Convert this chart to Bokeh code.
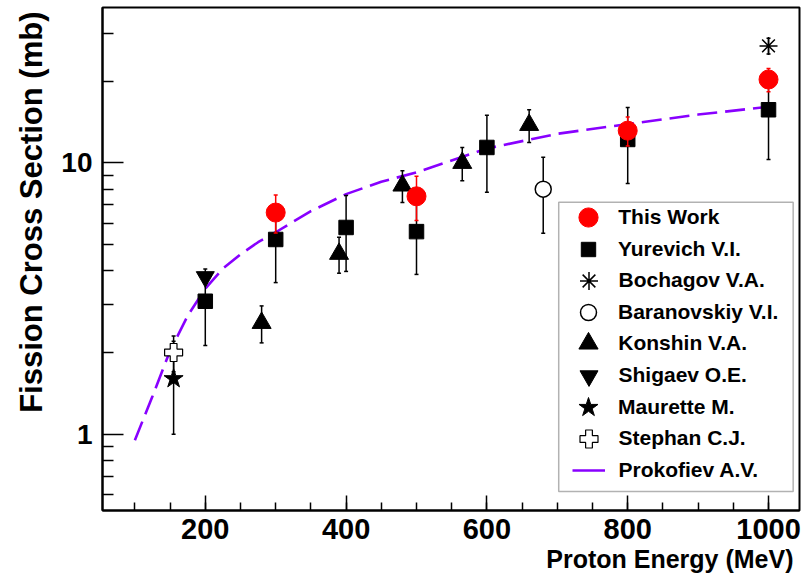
from bokeh.plotting import figure
from bokeh.models import (Range1d, FixedTicker, ColumnDataSource, Legend, LegendItem,
                          BoxAnnotation, PrintfTickFormatter, Title)
from bokeh.embed import file_html
from bokeh.resources import INLINE

FONT = "Liberation Sans"

# ---------------- data ----------------
this_E = [300, 500, 800, 1000]
this_xs = [6.56, 7.53, 13.15, 20.3]
this_err = [1.05, 1.4, 1.6, 2.0]

yurevich_E = [200, 300, 400, 500, 600, 800, 1000]
yurevich_xs = [3.09, 5.22, 5.78, 5.58, 11.4, 12.2, 15.7]
yurevich_err = [0.97, 1.6, 1.8, 1.7, 3.6, 3.8, 5.4]

bochagov_E = [1000]
bochagov_xs = [27.0]
bochagov_err = [1.8]

baranovskiy_E = [680]
baranovskiy_xs = [8.0]
baranovskiy_err = [2.5]

konshin_E = [280, 390, 480, 565, 660]
konshin_xs = [2.57, 4.62, 8.25, 10.0, 13.8]
konshin_err = [0.4, 0.7, 1.1, 1.4, 1.9]

shigaev_E = [200]
shigaev_xs = [3.8]

maurette_E = [155]
maurette_xs = [1.6]
maurette_err = [0.6]

stephan_E = [155]
stephan_xs = [2.0]
stephan_err = [0.3]

prokofiev_E = [100, 125, 150, 175, 200, 225, 250, 275, 300, 350, 400, 450, 500,
               600, 700, 800, 900, 1000]
prokofiev_xs = [0.95, 1.38, 2.03, 2.73, 3.44, 4.08, 4.6, 5.1, 5.55, 6.64, 7.67,
                8.52, 9.23, 11.3, 12.8, 13.9, 15.07, 16.1]

x_major = [200, 400, 600, 800, 1000]
x_minor = list(range(100, 1001, 50))
y_major = [1, 10]
y_minor = [0.6, 0.7, 0.8, 0.9, 2, 3, 4, 5, 6, 7, 8, 9, 20, 30]

x_title = "Proton Energy (MeV)"
y_title = "Fission Cross Section (mb)"
legend_labels = ["This Work", "Yurevich V.I.", "Bochagov V.A.", "Baranovskiy V.I.",
                 "Konshin V.A.", "Shigaev O.E.", "Maurette M.", "Stephan C.J.",
                 "Prokofiev A.V."]

X0, X1 = 54, 1044
Y0, Y1 = 0.523, 37.4

# ---------------- figure ----------------
p = figure(width=805, height=578, x_range=Range1d(X0, X1), y_range=Range1d(Y0, Y1),
           y_axis_type="log", output_backend="svg", toolbar_location=None,
           min_border_left=102, min_border_right=6, min_border_top=7, min_border_bottom=68)
p.background_fill_color = "white"
p.border_fill_color = "white"
p.outline_line_color = "black"
p.outline_line_width = 2
p.grid.visible = False

for ax in (p.xaxis[0], p.yaxis[0]):
    ax.axis_line_color = "black"
    ax.axis_line_width = 2
    ax.major_tick_line_color = "black"
    ax.minor_tick_line_color = "black"
    ax.major_tick_line_width = 1.5
    ax.minor_tick_line_width = 1.5
    ax.major_tick_out = 0
    ax.minor_tick_out = 0
    ax.major_label_text_font = FONT
    ax.major_label_text_font_style = "bold"
    ax.major_label_text_color = "black"

xa = p.xaxis[0]
xa.ticker = FixedTicker(ticks=x_major, minor_ticks=x_minor)
xa.major_tick_in = 15
xa.minor_tick_in = 8
xa.major_label_text_font_size = "29px"
xa.major_label_standoff = 8

ya = p.yaxis[0]
ya.ticker = FixedTicker(ticks=y_major, minor_ticks=y_minor)
ya.formatter = PrintfTickFormatter(format="%d")
ya.major_tick_in = 21
ya.minor_tick_in = 11
ya.major_label_text_font_size = "28px"
ya.major_label_standoff = 10

# axis titles, aligned to the far ends of the axes as in the original
p.add_layout(Title(text=x_title, align="right", vertical_align="bottom", offset=6, standoff=2,
                   text_font=FONT, text_font_style="bold", text_font_size="25px",
                   text_color="black"), "below")
p.add_layout(Title(text=y_title, align="right", vertical_align="bottom", offset=4, standoff=19,
                   text_font=FONT, text_font_style="bold", text_font_size="31px",
                   text_color="black"), "left")


def err_source(E, v, e):
    return ColumnDataSource(dict(x=E, y=v, lo=[a - b for a, b in zip(v, e)],
                                 hi=[a + b for a, b in zip(v, e)]))


def error_bars(src, color):
    p.segment(x0="x", y0="lo", x1="x", y1="hi", source=src, line_color=color, line_width=1.5)
    p.scatter(x="x", y="lo", source=src, marker="dash", size=4, line_color=color, line_width=1.5)
    p.scatter(x="x", y="hi", source=src, marker="dash", size=4, line_color=color, line_width=1.5)


PURPLE = "#8800ff"
r_prok = p.line(prokofiev_E, prokofiev_xs, line_color=PURPLE, line_width=2.6,
                line_dash="20 8")
# legend proxy (solid short line, nothing drawn in the plot)
r_prok_leg = p.line([float("nan")] * 2, [float("nan")] * 2, line_color=PURPLE, line_width=2.6)

s = err_source(konshin_E, konshin_xs, konshin_err)
error_bars(s, "black")
r_kon = p.scatter("x", "y", source=s, marker="triangle", size=19, fill_color="black",
                  line_color="black")

s = err_source(yurevich_E, yurevich_xs, yurevich_err)
error_bars(s, "black")
r_yur = p.scatter("x", "y", source=s, marker="square", size=14.5, fill_color="black",
                  line_color="black")

s = err_source(bochagov_E, bochagov_xs, bochagov_err)
error_bars(s, "black")
r_boc = p.scatter("x", "y", source=s, marker="asterisk", size=18, line_color="black",
                  line_width=1.5)

s = err_source(baranovskiy_E, baranovskiy_xs, baranovskiy_err)
error_bars(s, "black")
r_bar = p.scatter("x", "y", source=s, marker="circle", size=16, fill_color="white",
                  line_color="black", line_width=1.5)

r_shi = p.scatter(shigaev_E, shigaev_xs, marker="inverted_triangle", size=18,
                  fill_color="black", line_color="black")

s = err_source(maurette_E, maurette_xs, maurette_err)
error_bars(s, "black")
r_mau = p.scatter("x", "y", source=s, marker="star", size=20, fill_color="black",
                  line_color="black")

s = err_source(stephan_E, stephan_xs, stephan_err)
error_bars(s, "black")
r_ste = p.scatter("x", "y", source=s, marker="plus", size=18, fill_color="white",
                  line_color="black", line_width=1.2)

s = err_source(this_E, this_xs, this_err)
error_bars(s, "red")
r_this = p.scatter("x", "y", source=s, marker="circle", size=19, fill_color="red",
                   line_color="red")

# ---------------- legend ----------------
frame_left, frame_bottom = 102, 510
legend_renderers = [r_this, r_yur, r_boc, r_bar, r_kon, r_shi, r_mau, r_ste, r_prok_leg]
legend_sizes = [19, 14.5, 18, 16, 19, 18, 20, 18, None]
marker_cx = 588
label_x = 618
first_c, pitch = 217, 31.6
for i, (lab, rr, sz) in enumerate(zip(legend_labels, legend_renderers, legend_sizes)):
    if sz is None:
        gw, gh = 33, 30
    else:
        gw = gh = sz / 0.4
    c = first_c + i * pitch
    leg = Legend(items=[LegendItem(label=lab, renderers=[rr])],
                 location=(marker_cx - gw / 2 - frame_left, frame_bottom - (c + gh / 2)),
                 glyph_width=int(round(gw)), glyph_height=int(round(gh)),
                 label_height=int(round(gh)),
                 label_standoff=int(round(label_x - marker_cx - gw / 2)),
                 padding=0, margin=0, spacing=0,
                 border_line_alpha=0, background_fill_alpha=0,
                 label_text_font=FONT, label_text_font_style="bold",
                 label_text_font_size="21px", label_text_color="black")
    p.add_layout(leg)

p.add_layout(BoxAnnotation(left=702, right=1035, top=7.16, bottom=0.615,
                           fill_alpha=0, line_color="black", line_width=1.5, level="overlay"))

open("out.html", "w").write(file_html(p, INLINE))
